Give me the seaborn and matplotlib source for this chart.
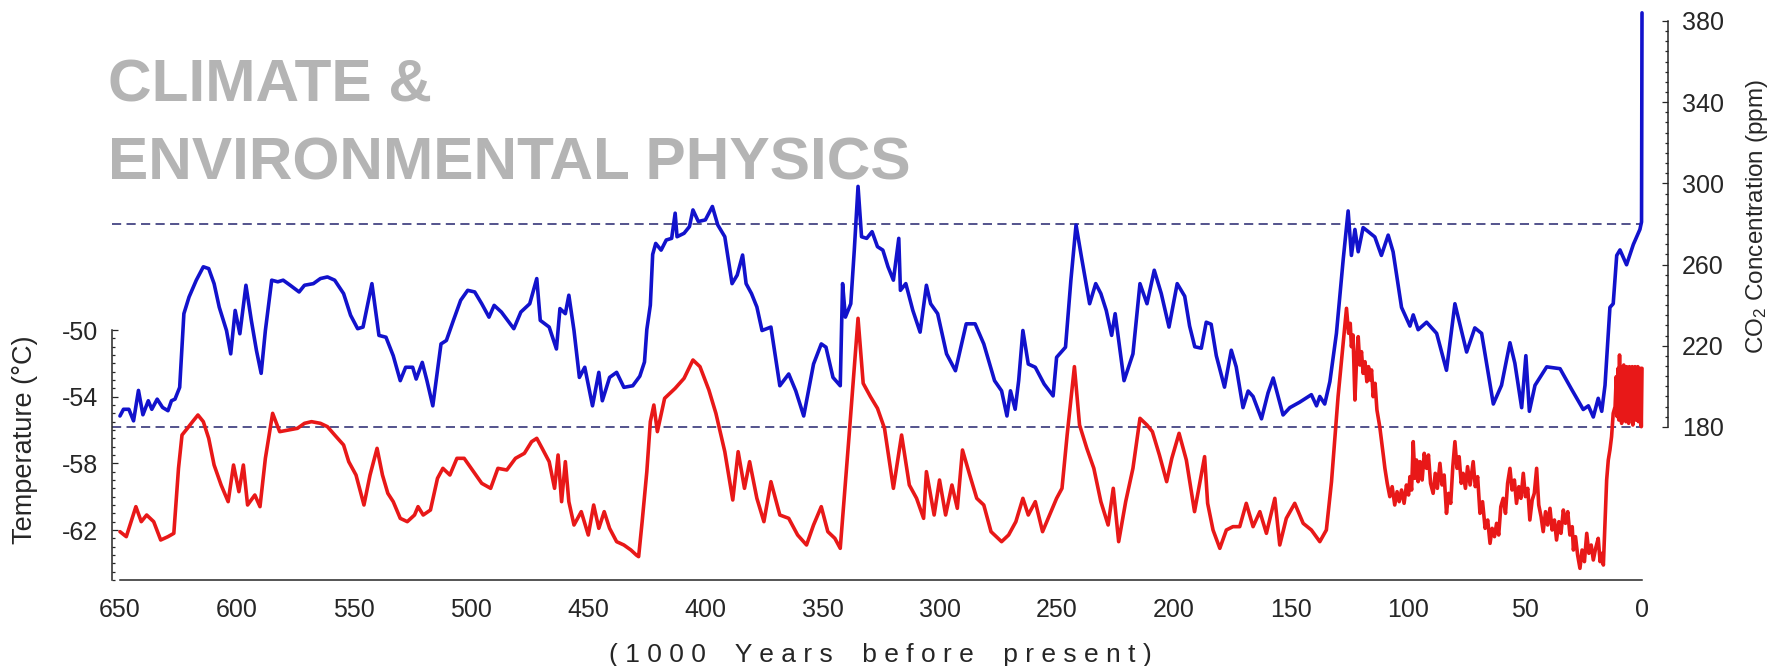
import numpy as np
import matplotlib
matplotlib.use("Agg")
import matplotlib.pyplot as plt
import seaborn as sns
from matplotlib.ticker import FixedLocator

# ---------------------------------------------------------------- data
# Atmospheric CO2 (ppm) versus age (thousand years before present)
co2_kyr = [650, 648.5, 646.2, 644.2, 642.1, 640.2, 637.9, 636.4, 634.1, 631.8,
           629.5, 628, 626.5, 624.5, 622.7, 620.5, 617.4, 614.4, 612.1, 609.8,
           607.6, 604.5, 602.7, 600.8, 598.8, 596.2, 593.9, 591.7, 589.7, 587.9,
           585.2, 582.6, 580.3, 577.3, 573.5, 571.2, 567.4, 564.4, 561.4, 558.3,
           554.5, 551.5, 548.5, 546.2, 542.4, 539.4, 536.4, 533.3, 530.3, 528,
           525, 523.5, 520.9, 518.9, 516.4, 512.9, 510.6, 507.6, 504.5, 501.5,
           498.5, 495.5, 492.4, 490.2, 487.1, 481.8, 478.8, 475, 472, 470.5,
           466.7, 463.6, 462.1, 459.8, 458.3, 456.1, 453.8, 451.5, 448.2, 445.5,
           444, 440.9, 437.9, 434.8, 431, 428, 426, 425, 423.5, 422.5,
           421.2, 418.9, 416.7, 414.4, 412.9, 412.1, 409.1, 406.8, 405.3, 403,
           400, 397, 394.7, 391.7, 388.6, 386.4, 384.1, 382.6, 380.3, 378,
           375.8, 372, 368.2, 364.4, 361.4, 358, 353.8, 350.5, 348.5, 345.5,
           342.4, 341.4, 340.2, 337.9, 336.4, 334.8, 333.3, 331.1, 328.8, 326.5,
           324.2, 322, 319.7, 317.4, 316.7, 314.4, 311.4, 308.3, 305.6, 303.8,
           300.8, 297, 293.2, 290.9, 288.6, 284.8, 281.1, 276.5, 273.5, 271.2,
           269.7, 267.7, 266.2, 264.4, 262.1, 259.1, 255.3, 251.5, 250, 246.2,
           243.9, 241.7, 239.4, 235.9, 233.3, 231.1, 228.8, 226.5, 225, 221.2,
           217.4, 214.4, 211.4, 208.3, 205.3, 202, 198.5, 195.3, 193.2, 191,
           188.2, 186.1, 184, 181.8, 178.3, 175.4, 173.3, 170.4, 168.2, 166.1,
           162.5, 159.7, 157.5, 153.3, 150.4, 146.2, 141.2, 139, 137.6, 135.5,
           133.3, 130.5, 127.6, 125.5, 124.1, 122.6, 121.2, 119.1, 117, 114.1,
           111.3, 108.4, 106.3, 102.7, 99.1, 97.7, 95.6, 92, 87.7, 83.5,
           79.9, 74.9, 71.4, 68.5, 63.5, 60, 56.4, 54.3, 51.4, 49.6,
           48.1, 45.7, 40.7, 35, 30.1, 25.1, 22.9, 20.8, 18.7, 17.2,
           15.8, 13.7, 12.3, 10.8, 9.4, 6.6, 3.7, 0.9, 0.2, 0.0]
co2_ppm = [185.4, 188.7, 188.7, 183, 198, 186, 192.9, 188.7, 193.7, 189.6,
           188, 192.9, 193.7, 199.5, 235.8, 244, 252.3, 258.9, 258, 250.6,
           239, 227.5, 216, 237.4, 225.9, 249.8, 232.5, 217.6, 206.4, 227.5,
           252.3, 251.5, 252.3, 249.8, 246.5, 249.8, 250.6, 253.1, 253.9, 252.3,
           245.7, 235, 228.4, 229.2, 250.6, 225.1, 224.2, 215.1, 202.8, 209.4,
           209.4, 203.6, 211.8, 202.8, 190.4, 220.9, 222.6, 232.5, 242.4, 247.3,
           246.5, 240.7, 234.1, 239.9, 236.6, 228.4, 236.6, 240.7, 253.1, 232.5,
           229.2, 218.4, 238.3, 235.8, 244.9, 227.5, 204.4, 209.4, 190.4, 206.9,
           192.9, 204.4, 206.9, 199.5, 200.3, 205, 212, 228, 240, 265,
           270.4, 267.1, 272.1, 272.9, 285.3, 273.7, 275.4, 278.7, 286.9, 281.2,
           282, 288.6, 279.5, 273.7, 250.6, 254.8, 264.7, 250.6, 245.7, 239.1,
           227.5, 229.2, 200.3, 206.1, 197.8, 185.4, 211, 220.9, 219.3, 204.4,
           200.3, 250.6, 234.1, 240.7, 267.1, 298.5, 273.7, 272.9, 276.2, 268.8,
           267.1, 258.9, 252.3, 272.9, 247.3, 250.6, 237.4, 226.7, 249.8, 240.7,
           235.8, 216, 207.7, 219.3, 230.8, 230.8, 220.9, 202.8, 197.8, 185.4,
           197.8, 188.7, 202.8, 227.5, 211, 209.4, 201.1, 195.3, 214.3, 219.3,
           252.3, 279.5, 263.8, 240.7, 250.6, 245.7, 237.4, 225.1, 235.8, 202.8,
           216, 250.6, 240.7, 257.2, 245.7, 229.2, 250.6, 244.4, 229.7, 219.5,
           218.8, 231.6, 230.6, 215.1, 199.6, 217.8, 209.6, 189.5, 197.7, 195,
           184, 196.8, 204.1, 185.9, 189.5, 192.2, 195.9, 190.4, 195, 191.3,
           202.3, 226.1, 262.6, 286.4, 264.5, 277.3, 266.3, 278.2, 276.3, 273.6,
           264.5, 274.5, 266.3, 238.9, 229.7, 235.2, 227.9, 231.6, 226.1, 207.9,
           240.7, 216.9, 228.8, 226.1, 191.3, 200.5, 221.5, 211.4, 189.5, 215.1,
           187.7, 200.5, 209.6, 208.7, 198.6, 188.6, 190.4, 184.9, 194.1, 187.7,
           200.5, 238.9, 240.7, 264.5, 267.2, 259.9, 269.9, 277.3, 281, 384]

# Antarctic temperature (deg C) versus age (thousand years before present)
temp_kyr = [650, 647.3, 643.2, 640.9, 638.6, 635.6, 632.6, 629.5, 627, 625,
            623.5, 621.2, 619, 616.7, 614.4, 612.1, 609.8, 606.8, 603.8, 601.5,
            599.2, 597.3, 595.5, 592.4, 590.2, 587.9, 584.8, 581.8, 578, 574.2,
            571.2, 568.2, 564.4, 561.4, 558.3, 554.5, 552.3, 549.2, 545.8, 543.2,
            540.2, 537.9, 535.6, 533.3, 530.3, 527.3, 524.2, 522.7, 520.5, 517.4,
            514.4, 512.1, 509.1, 506.1, 503, 500, 495.5, 491.7, 488.6, 484.8,
            481.1, 477.3, 474.2, 472, 469.7, 466.7, 464.4, 462.9, 461.4, 459.8,
            458.3, 456.1, 453, 450, 447.7, 445.5, 443.2, 440.9, 437.9, 434.8,
            431.8, 429.5, 428.5, 427, 425, 423.5, 422, 420.5, 417.4, 412.9,
            409.1, 405.3, 402.3, 398.5, 395.5, 391.7, 388.3, 386, 383.3, 381.1,
            378, 375, 372, 368.2, 364.4, 360.6, 356.8, 353.8, 350.5, 347.7,
            344.7, 342.4, 338.6, 334.8, 332.6, 329.5, 326.5, 323.5, 319.7, 316.2,
            312.9, 309.8, 306.8, 305.6, 302.3, 300, 297.4, 294.7, 292.4, 290.2,
            287.1, 284.1, 281.1, 278, 273.5, 270.5, 267.4, 264.4, 262.1, 259.1,
            256, 253, 250, 247.7, 245.5, 242.4, 240.2, 237.1, 234.1, 231.1,
            228, 225.8, 223.5, 220.5, 217.4, 214.4, 211.4, 209.1, 206.1, 203,
            200.8, 197.7, 194.6, 191.1, 189, 186.8, 185.5, 183.2, 180.3, 177.5,
            174.7, 171.8, 169, 166.1, 163.2, 160.4, 156.8, 154.7, 151.9, 148.3,
            144.7, 141.2, 137.6, 134.8, 132.6, 129.8, 126.2, 125.3, 124.6, 124.1,
            123.4, 122.6, 121.9, 121.2, 120.5, 119.8, 119.1, 118.3, 117.5, 116.8,
            116.2, 115.5, 114.8, 114.0, 113.2, 112.0, 111.0, 110.4, 109.8, 108.8,
            107.7, 106.7, 105.6, 104.6, 103.7, 102.7, 101.6, 100.6, 99.7, 99.1,
            98.4, 97.7, 97.0, 96.3, 95.6, 94.8, 93.9, 93.0, 92.0, 91.2,
            90.3, 89.2, 88.3, 87.4, 86.3, 85.4, 84.5, 83.5, 82.6, 81.7,
            80.8, 79.9, 79.0, 78.1, 77.2, 76.4, 75.4, 74.5, 73.4, 72.1,
            71.2, 70.2, 69.2, 68.1, 67.0, 65.9, 64.9, 64.0, 63.0, 62.1,
            61.2, 60.3, 59.3, 58.3, 57.4, 56.4, 55.5, 54.5, 53.6, 52.6,
            51.7, 50.7, 49.8, 48.8, 47.9, 46.9, 46.0, 45.0, 44.1, 43.1,
            42.2, 41.2, 40.3, 39.3, 38.4, 37.4, 36.5, 35.5, 34.6, 33.6,
            32.7, 31.7, 30.8, 29.8, 29.3, 28.4, 27.5, 26.5, 25.6, 24.6,
            23.6, 22.7, 21.7, 20.8, 19.8, 18.7, 17.9, 17.2, 16.5, 15.8,
            15.1, 14.4, 13.7, 13.0, 12.3, 11.5, 11.0, 10.6, 10.2, 9.9,
            9.6, 9.3, 9.0, 8.7, 8.4, 8.1, 7.8, 7.5, 7.2, 6.9,
            6.6, 6.3, 6.0, 5.7, 5.4, 5.1, 4.8, 4.5, 4.2, 3.9,
            3.6, 3.3, 3.0, 2.7, 2.4, 2.1, 1.8, 1.5, 1.2, 0.9,
            0.6, 0.3, 0.0]
temp_c = [-62.1, -62.4, -60.6, -61.5, -61.1, -61.5, -62.6, -62.4, -62.2, -58.3,
          -56.3, -55.9, -55.5, -55.1, -55.5, -56.5, -58.1, -59.3, -60.3, -58.1,
          -59.7, -58.1, -60.5, -59.9, -60.6, -57.7, -55.0, -56.1, -56.0, -55.9,
          -55.6, -55.5, -55.6, -55.8, -56.3, -56.9, -57.9, -58.7, -60.5, -58.7,
          -57.1, -58.7, -59.8, -60.3, -61.3, -61.5, -61.1, -60.6, -61.1, -60.8,
          -58.9, -58.3, -58.7, -57.7, -57.7, -58.3, -59.2, -59.5, -58.3, -58.4,
          -57.7, -57.4, -56.7, -56.5, -57.1, -57.9, -59.5, -57.5, -60.3, -57.9,
          -60.3, -61.7, -60.9, -62.3, -60.5, -61.9, -60.9, -61.9, -62.7, -62.9,
          -63.2, -63.5, -63.6, -61.5, -58.5, -55.5, -54.5, -56.1, -54.1, -53.5,
          -52.9, -51.8, -52.2, -53.6, -55.0, -57.3, -60.2, -57.3, -59.5, -57.9,
          -60.1, -61.5, -59.1, -61.1, -61.3, -62.3, -62.9, -61.7, -60.6, -62.1,
          -62.5, -63.1, -56.3, -49.3, -53.2, -54.0, -54.7, -55.9, -59.5, -56.3,
          -59.3, -60.1, -61.3, -58.5, -61.1, -59.0, -61.1, -59.3, -60.7, -57.2,
          -58.7, -60.1, -60.5, -62.1, -62.7, -62.3, -61.5, -60.1, -61.1, -60.3,
          -62.1, -61.1, -60.1, -59.5, -56.3, -52.2, -55.7, -57.1, -58.3, -60.3,
          -61.7, -59.5, -62.7, -60.3, -58.3, -55.3, -55.7, -56.1, -57.5, -59.1,
          -57.7, -56.2, -57.8, -60.9, -59.3, -57.6, -60.4, -62.0, -63.1, -62.0,
          -61.8, -61.8, -60.4, -61.8, -60.9, -62.2, -60.1, -62.9, -61.3, -60.4,
          -61.6, -62.0, -62.7, -62.0, -59.1, -54.0, -48.7, -50.2, -49.6, -51.0,
          -50.3, -54.2, -51.8, -50.4, -52.1, -51.3, -52.6, -51.9, -53.1, -52.2,
          -53.0, -52.4, -54.0, -53.2, -54.8, -55.8, -56.9, -57.6, -58.3, -59.2,
          -60.0, -59.4, -60.5, -59.7, -60.3, -59.6, -60.4, -59.3, -59.9, -58.8,
          -59.6, -56.7, -58.9, -57.8, -59.1, -57.9, -59.0, -57.4, -58.3, -57.5,
          -59.2, -59.8, -58.6, -59.5, -58.0, -59.3, -58.7, -61.0, -59.8, -60.4,
          -58.2, -56.7, -58.3, -57.6, -59.2, -58.6, -59.5, -58.2, -59.3, -57.9,
          -59.4, -58.8, -61.0, -60.3, -61.9, -61.4, -62.8, -61.9, -62.4, -61.6,
          -62.3, -60.6, -60.1, -61.0, -59.2, -58.3, -59.6, -59.0, -60.4, -59.4,
          -60.1, -58.6, -60.0, -59.5, -61.4, -60.2, -59.8, -58.3, -60.5, -61.2,
          -62.1, -60.9, -61.7, -60.7, -62.0, -61.4, -62.6, -61.5, -62.2, -60.8,
          -61.6, -60.9, -62.3, -61.8, -63.2, -62.4, -63.5, -64.3, -63.2, -63.9,
          -62.2, -63.4, -62.9, -63.8, -63.1, -62.5, -63.9, -63.4, -64.1, -61.5,
          -59.0, -57.8, -57.2, -56.4, -55.0, -54.6, -52.8, -55.2, -52.3, -55.4,
          -51.5, -55.1, -52.2, -55.6, -52.4, -55.0, -52.1, -55.4, -52.3, -55.5,
          -52.2, -54.9, -52.4, -55.6, -52.2, -55.3, -52.3, -55.2, -52.2, -55.7,
          -52.4, -55.1, -52.2, -55.4, -52.3, -55.3, -52.2, -55.5, -52.4, -55.0,
          -52.3, -55.8, -52.3]

# axis ticks and reference levels
age_ticks = [650, 600, 550, 500, 450, 400, 350, 300, 250, 200, 150, 100, 50, 0]
co2_ticks = [180, 220, 260, 300, 340, 380]
temp_ticks = [-62, -58, -54, -50]
co2_reference = [280, 180]

title_lines = ["CLIMATE &", "ENVIRONMENTAL PHYSICS"]
x_label = "(1000 Years before present)"

# ---------------------------------------------------------------- style
sns.set_theme(style="white")
plt.rcParams["font.family"] = ["Liberation Sans", "DejaVu Sans"]
plt.rcParams["axes.unicode_minus"] = False
plt.rcParams["mathtext.default"] = "regular"

BLUE = "#1212cc"
RED = "#e81818"
NAVY = "#25256e"
INK = "#262626"

W, H = 1785, 666
fig = plt.figure(figsize=(W / 100, H / 100), dpi=100)
fig.patch.set_facecolor("white")

# CO2 axes (right scale) drawn first, temperature axes on top of it
ax = fig.add_axes([112 / W, 86 / H, 1556 / W, 570 / H])
ax.set_facecolor("none")
ax_t = ax.twinx()

x_lim = (653.4, -11.1)
ax.set_xlim(*x_lim)
ax.set_ylim(104.6, 385.4)
ax_t.set_ylim(-65.0, -30.8)

# pre-industrial / glacial CO2 reference levels
ax.hlines(co2_reference, xmin=x_lim[0], xmax=age_ticks[-1], colors=NAVY,
          linestyles=(0, (6, 3.5)), linewidth=1.1, zorder=1)

sns.lineplot(x=co2_kyr, y=co2_ppm, ax=ax, color=BLUE, linewidth=2.6,
             sort=False, estimator=None, zorder=3)
sns.lineplot(x=temp_kyr, y=temp_c, ax=ax_t, color=RED, linewidth=2.6,
             sort=False, estimator=None, zorder=3)

# ---------------------------------------------------------------- spines
for a in (ax, ax_t):
    a.spines["top"].set_visible(False)
    for s in a.spines.values():
        s.set_color(INK)
        s.set_linewidth(1.1)
ax.spines["left"].set_visible(False)
ax.spines["right"].set_bounds(co2_ticks[0], co2_ticks[-1])
ax.spines["bottom"].set_bounds(age_ticks[0], age_ticks[-1])
ax_t.spines["right"].set_visible(False)
ax_t.spines["bottom"].set_visible(False)
ax_t.spines["left"].set_bounds(-65, temp_ticks[-1])

# ---------------------------------------------------------------- ticks
ax.yaxis.tick_right()
ax.yaxis.set_label_position("right")
ax_t.yaxis.tick_left()
ax_t.yaxis.set_label_position("left")

ax.set_xticks(age_ticks)
ax.xaxis.set_minor_locator(FixedLocator(np.arange(0, 651, 5)))
ax.set_yticks(co2_ticks)
ax.yaxis.set_minor_locator(FixedLocator(np.arange(180, 381, 5)))
ax_t.set_yticks(temp_ticks)
ax_t.yaxis.set_minor_locator(FixedLocator(np.arange(-65, -49.9, 0.5)))

for a in (ax, ax_t):
    a.tick_params(which="both", direction="in", color=INK, labelcolor=INK,
                  labelsize=18, width=0.9)
    a.tick_params(which="major", length=4.5)
    a.tick_params(which="minor", length=2.4)
ax.tick_params(axis="x", which="both", pad=13)
ax.tick_params(axis="y", which="both", pad=10, left=False, right=True)
ax_t.tick_params(axis="y", which="both", pad=10, left=True, right=False)
ax.grid(False)
ax_t.grid(False)

# ---------------------------------------------------------------- labels
ax.set_xlabel(" ".join(x_label).replace("   ", "    "), fontsize=19, color=INK)
ax.xaxis.set_label_coords((880 - 112) / 1556, (580 - 655) / 570)
ax.xaxis.label.set_verticalalignment("center")

ax.set_ylabel("CO$_2$ Concentration (ppm)", fontsize=17.5, color=INK, rotation=90)
ax.yaxis.set_label_coords((1757 - 112) / 1556, (580 - 217) / 570)
ax.yaxis.label.set_verticalalignment("center")

ax_t.set_ylabel("Temperature (°C)", fontsize=19.5, color=INK, rotation=90)
ax_t.yaxis.set_label_coords((25 - 112) / 1556, (580 - 440) / 570)
ax_t.yaxis.label.set_verticalalignment("center")

# heading
fig.text(108 / W, (H - 102) / H, title_lines[0], fontsize=43.5, fontweight="bold",
         color="#b4b4b4", ha="left", va="baseline")
fig.text(108 / W, (H - 180) / H, title_lines[1], fontsize=43.5, fontweight="bold",
         color="#b4b4b4", ha="left", va="baseline")

fig.savefig("out.png", dpi=100, facecolor="white")
